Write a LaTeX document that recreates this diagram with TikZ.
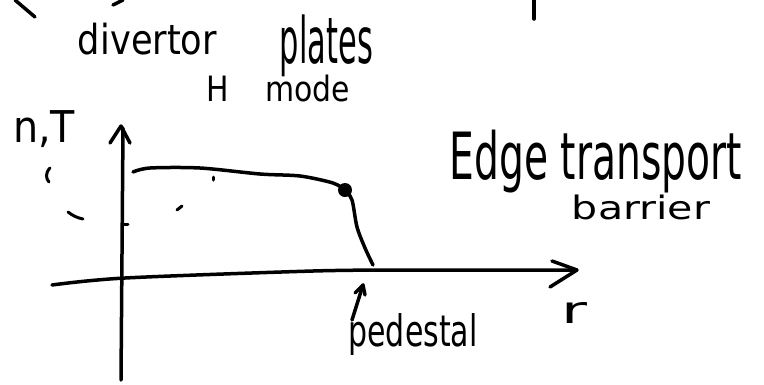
\documentclass[tikz,border=0pt]{standalone}
\usepackage{fontspec}
\setmainfont{DejaVu Sans}
\usepackage{graphicx}
\newcommand{\hwtext}[3]{\resizebox*{#1}{#2}{#3}}
\tikzset{
  pen/.style={line width=3.5pt, line cap=round, line join=round},
  thinpen/.style={line width=3pt, line cap=round, line join=round},
  lbl/.style={inner sep=0pt, outer sep=0pt, anchor=center}
}
\begin{document}
\begin{tikzpicture}[x=1pt,y=-1pt]
\useasboundingbox (0,0) rectangle (764,384);
% labels
\node[lbl] (divertor) at (147.5,39) {\hwtext{139pt}{32pt}{divertor}};
\node[lbl] (plates) at (326.5,46) {\hwtext{93pt}{62pt}{plates}};
\node[lbl] (hmode) at (278.5,88.5) {\hwtext{143pt}{27pt}{H\hspace{1.2em}mode}};
\node[lbl] (nT) at (44,129.5) {\hwtext{62pt}{37pt}{n,T}};
\node[lbl] (edge) at (596,161.5) {\hwtext{292pt}{63pt}{Edge transport}};
\node[lbl] (barrier) at (641,207.5) {\hwtext{138pt}{25pt}{barrier}};
\node[lbl] (pedestal) at (413,335) {\hwtext{129pt}{42pt}{pedestal}};
\node[lbl] (r) at (574,312.5) {\hwtext{26pt}{21pt}{r}};
% stray strokes at top
\draw[pen] (15,0) -- (35,17);
\draw[pen] (113,5) -- (123,0);
\draw[pen] (534,0) -- (534,19);
% vertical axis
\draw[pen] (121,380) -- (123,128);
\draw[pen] (110,143) -- (121,126) -- (130,143);
% horizontal axis
\draw[pen] plot[smooth] coordinates {(52,285) (125,278) (313,271) (400,270)} -- (575,270);
\draw[pen] (552,261) -- (577,270) -- (550,287);
% profile
\draw[pen] plot[smooth] coordinates {(133,172) (150,168) (200,168) (260,174) (300,176) (333,183) (345,190)};
\fill (345,190) circle[radius=7];
\draw[pen] plot[smooth] coordinates {(345,190) (352,200) (357,227) (365,248) (373,265)};
% small marks
\draw[thinpen] (50,168) .. controls (45,173) and (46,179) .. (49,182);
\draw[thinpen] (68,212) .. controls (73,216) and (78,218) .. (83,219);
\draw[thinpen] (124,224) -- (128,224);
\draw[thinpen] (213,177) -- (213,180);
\draw[thinpen] (177,210) -- (182,206);
% pedestal arrow
\draw[pen] (352,320) -- (363,285);
\draw[pen] (355,293) -- (363,285) -- (365,295);
\end{tikzpicture}
\end{document}
